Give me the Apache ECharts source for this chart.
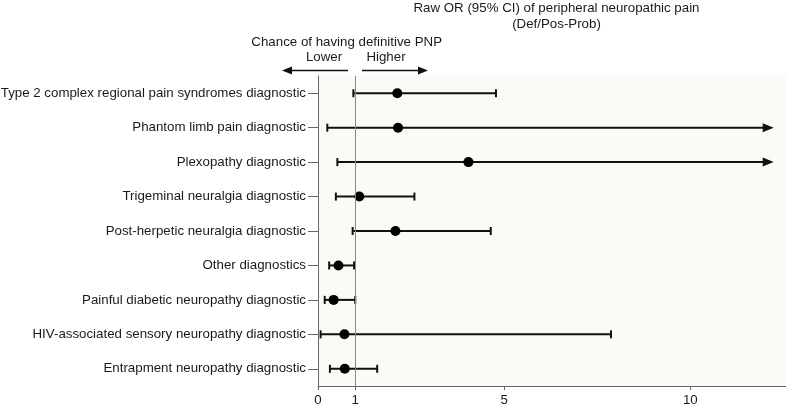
<!DOCTYPE html>
<html>
<head>
<meta charset="utf-8">
<script src="https://cdn.jsdelivr.net/npm/echarts@6/dist/echarts.min.js"></script>
<style>
html,body{margin:0;padding:0;background:#ffffff;}
#chart{width:786px;height:406px;}
</style>
</head>
<body>
<div id="chart"></div>
<script>
// ---- data (top to bottom) ----
var categories = [
  'Type 2 complex regional pain syndromes diagnostic',
  'Phantom limb pain diagnostic',
  'Plexopathy diagnostic',
  'Trigeminal neuralgia diagnostic',
  'Post-herpetic neuralgia diagnostic',
  'Other diagnostics',
  'Painful diabetic neuropathy diagnostic',
  'HIV-associated sensory neuropathy diagnostic',
  'Entrapment neuropathy diagnostic'
];
var oddsRatio = [2.13, 2.15, 4.04, 1.11, 2.08, 0.55, 0.42, 0.71, 0.72];
var lowerCI   = [0.95, 0.25, 0.52, 0.48, 0.93, 0.30, 0.18, 0.07, 0.32];
var upperCI   = [4.78, null, null, 2.59, 4.64, 0.97, 1.00, 7.87, 1.59];
// open-ended upper limits are drawn as arrows that end at this axis value
var arrowTip = 12.24;
var xTickValues = [0, 1, 5, 10];
var referenceOR = 1;

var font = 'Liberation Sans, Arial, sans-serif';
var fs = 13.3;
var textColor = '#1a1a1a';

var barData = categories.map(function (c, i) {
  var open = upperCI[i] === null ? 1 : 0;
  return [i, lowerCI[i], open ? arrowTip : upperCI[i], open];
});
var pointData = categories.map(function (c, i) { return [oddsRatio[i], i]; });

var chart = echarts.init(document.getElementById('chart'), null, {renderer: 'canvas'});

function renderBar(params, api) {
  var cat = api.value(0);
  var lo = api.coord([api.value(1), cat]);
  var hi = api.coord([api.value(2), cat]);
  var open = api.value(3);
  var cap = 4;
  var st = {stroke: '#111', lineWidth: 2};
  var children = [
    {type: 'line', shape: {x1: lo[0], y1: lo[1], x2: open ? hi[0] - 6 : hi[0], y2: hi[1]}, style: st},
    {type: 'line', shape: {x1: lo[0], y1: lo[1] - cap, x2: lo[0], y2: lo[1] + cap}, style: st}
  ];
  if (open) {
    children.push({type: 'polygon', shape: {points: [[hi[0], hi[1]], [hi[0] - 11, hi[1] - 4.5], [hi[0] - 11, hi[1] + 4.5]]}, style: {fill: '#111'}});
  } else {
    children.push({type: 'line', shape: {x1: hi[0], y1: hi[1] - cap, x2: hi[0], y2: hi[1] + cap}, style: st});
  }
  return {type: 'group', children: children};
}

function txt(s, x, y) {
  return {type: 'text', x: x, y: y, style: {text: s, fill: textColor, font: fs + 'px ' + font, textAlign: 'center', textVerticalAlign: 'middle'}};
}

var option = {
  animation: false,
  backgroundColor: '#ffffff',
  grid: {left: 318, right: 0, top: 76, bottom: 20, show: true, backgroundColor: '#fbfaf7', borderWidth: 0,
         containLabel: false, outerBoundsMode: 'none'},
  xAxis: {
    type: 'value', min: 0, max: 12.57,
    splitLine: {show: false},
    axisLine: {show: true, lineStyle: {color: '#666', width: 1}},
    axisTick: {show: true, length: 4, lineStyle: {color: '#666'}, customValues: xTickValues},
    axisLabel: {color: textColor, fontFamily: font, fontSize: fs, margin: 8, customValues: xTickValues}
  },
  yAxis: {
    type: 'category', data: categories, inverse: true,
    axisLine: {show: true, lineStyle: {color: '#666', width: 1}},
    axisTick: {show: true, length: 10, alignWithLabel: true, lineStyle: {color: '#666'}},
    axisLabel: {color: textColor, fontFamily: font, fontSize: fs, margin: 12},
    splitLine: {show: false}
  },
  series: [
    {
      type: 'custom', renderItem: renderBar, data: barData,
      encode: {x: [1, 2], y: 0}, z: 3
    },
    {
      type: 'scatter', data: pointData, symbol: 'circle', symbolSize: 10,
      itemStyle: {color: '#000', opacity: 1}, z: 4,
      markLine: {
        silent: true, symbol: ['none', 'none'], label: {show: false},
        lineStyle: {color: '#888', width: 1, type: 'solid'},
        data: [{xAxis: referenceOR}]
      }
    }
  ],
  graphic: [
    txt('Raw OR (95% CI) of peripheral neuropathic pain', 556.5, 8),
    txt('(Def/Pos-Prob)', 556.5, 24),
    txt('Chance of having definitive PNP', 346.7, 42),
    txt('Lower', 324, 57),
    txt('Higher', 386, 57),
    {type: 'line', shape: {x1: 348, y1: 70.5, x2: 290, y2: 70.5}, style: {stroke: '#111', lineWidth: 1.3}},
    {type: 'polygon', shape: {points: [[282, 70.5], [292, 66.5], [292, 74.5]]}, style: {fill: '#111'}},
    {type: 'line', shape: {x1: 362, y1: 70.5, x2: 420, y2: 70.5}, style: {stroke: '#111', lineWidth: 1.3}},
    {type: 'polygon', shape: {points: [[428, 70.5], [418, 66.5], [418, 74.5]]}, style: {fill: '#111'}}
  ]
};
chart.setOption(option);
</script>
</body>
</html>
